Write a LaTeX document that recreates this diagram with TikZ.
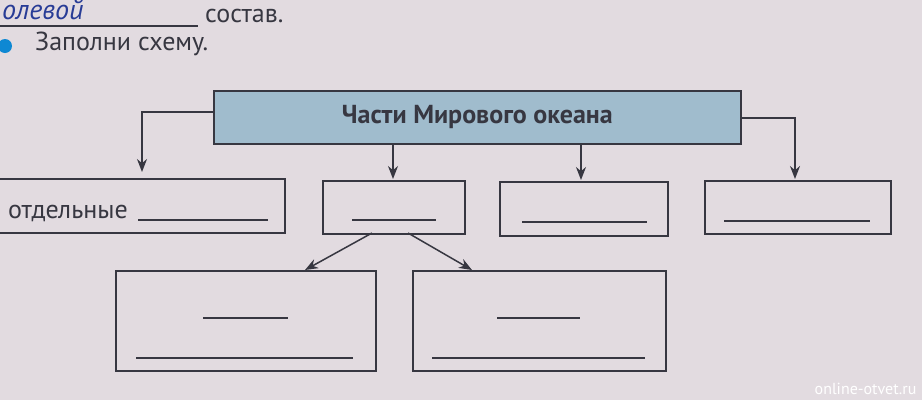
\documentclass[tikz,border=0pt]{standalone}
\usepackage{fontspec}
\setmainfont{PT Sans}
\usetikzlibrary{arrows.meta}
\definecolor{paper}{RGB}{226,219,224}
\definecolor{hdr}{RGB}{160,188,205}
\definecolor{ink}{RGB}{55,55,65}
\definecolor{pen}{RGB}{40,60,150}
\begin{document}
\begin{tikzpicture}[x=1pt,y=-1pt,
  box/.style={draw=ink,line width=1.6pt},
  arr/.style={draw=ink,line width=1.5pt,-{Stealth[length=13pt,width=10pt]}},
  blank/.style={draw=ink,line width=1.2pt},
  txt/.style={text=ink,font=\fontsize{26}{28}\selectfont,inner sep=0pt}]
\fill[paper] (0,0) rectangle (922,400);
\useasboundingbox (0,0) rectangle (922,400);
\node[anchor=west,text=pen,font=\itshape\fontsize{28}{30}\selectfont,inner sep=0pt] (hw) at (2,10) {олевой};
\draw[blank] (0,26) -- (198,26);
\node[txt,anchor=west] (sostav) at (205,16) {состав.};
\fill[cyan!70!blue] (5,46) circle (7);
\node[txt,anchor=west] (zap) at (35,44) {Заполни схему.};
% header
\node[box,fill=hdr,minimum width=527pt,minimum height=53pt,anchor=north west,inner sep=0pt,
  font=\bfseries\fontsize{26}{28}\selectfont,text=ink] (h) at (213,90) {Части Мирового океана};
% boxes
\node[box,minimum width=286pt,minimum height=54pt,anchor=north west] (b1) at (-2,178) {};
\node[box,minimum width=142pt,minimum height=53pt,anchor=north west] (b2) at (322,180) {};
\node[box,minimum width=168pt,minimum height=54pt,anchor=north west] (b3) at (499,181) {};
\node[box,minimum width=186pt,minimum height=53pt,anchor=north west] (b4) at (704,180) {};
\node[box,minimum width=260pt,minimum height=100pt,anchor=north west] (c1) at (115,270) {};
\node[box,minimum width=253pt,minimum height=100pt,anchor=north west] (c2) at (412,270) {};
% texts and blanks
\node[txt,anchor=west] (otd) at (8,213) {отдельные};
\draw[blank] (138,220) -- (268,220);
\draw[blank] (352,220) -- (436,220);
\draw[blank] (522,222) -- (647,222);
\draw[blank] (724,221) -- (870,221);
\draw[blank] (203,318) -- (288,318);
\draw[blank] (136,358) -- (353,358);
\draw[blank] (497,318) -- (580,318);
\draw[blank] (432,358) -- (645,358);
% arrows
\coordinate (l1) at (142,112);
\coordinate (r1) at (795,118);
\draw[arr] (h.west |- l1) -- (l1) -- (142,172);
\draw[arr] (393,143) -- (393,179);
\draw[arr] (581,143) -- (581,180);
\draw[arr] (h.east |- r1) -- (r1) -- (795,179);
\draw[arr] (372,233) -- (305,270);
\draw[arr] (408,233) -- (472,270);
\node[anchor=south east,text=white,font=\fontsize{16}{18}\selectfont] (wm) at (920,398) {online-otvet.ru};
\end{tikzpicture}
\end{document}
